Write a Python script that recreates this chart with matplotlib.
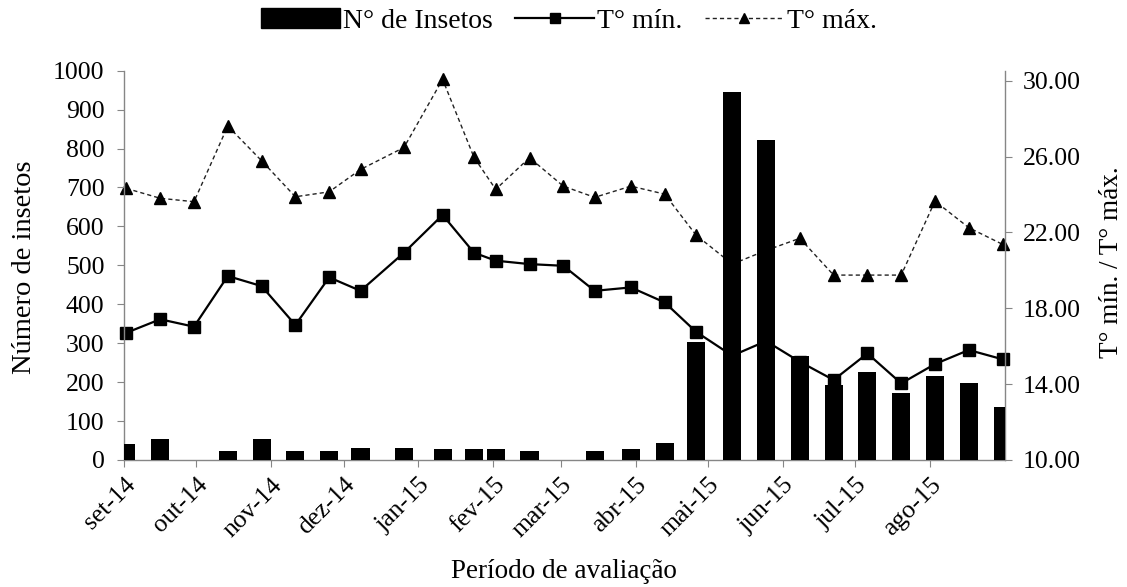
import numpy as np
import matplotlib
matplotlib.use("Agg")
import matplotlib.pyplot as plt
import matplotlib.dates as mdates
from matplotlib.patches import Patch
from matplotlib.lines import Line2D

plt.rcParams['font.family'] = ['Liberation Serif', 'DejaVu Serif']

# ---- data ----
sample_dates = ['2014-09-02', '2014-09-16', '2014-09-30', '2014-10-14', '2014-10-28',
                '2014-11-11', '2014-11-25', '2014-12-08', '2014-12-26', '2015-01-11',
                '2015-01-24', '2015-02-02', '2015-02-16', '2015-03-02', '2015-03-15',
                '2015-03-30', '2015-04-13', '2015-04-26', '2015-05-11', '2015-05-25',
                '2015-06-08', '2015-06-22', '2015-07-06', '2015-07-20', '2015-08-03',
                '2015-08-17', '2015-08-31']
insetos = [40, 53, 0, 24, 53, 24, 24, 32, 30, 27, 27, 27, 24, 0, 24, 27, 43,
           304, 946, 822, 267, 193, 227, 171, 216, 197, 135]
t_min = [16.71, 17.42, 17.03, 19.70, 19.17, 17.12, 19.63, 18.92, 20.93, 22.92,
         20.93, 20.51, 20.33, 20.24, 18.92, 19.10, 18.31, 16.76, 15.50, 16.27,
         15.18, 14.22, 15.62, 14.04, 15.06, 15.80, 15.31]
t_max = [24.32, 23.80, 23.62, 27.61, 25.78, 23.88, 24.14, 25.32, 26.48, 30.07,
         25.96, 24.27, 25.94, 24.44, 23.85, 24.44, 24.02, 21.86, 20.33, 21.05,
         21.69, 19.75, 19.75, 19.75, 23.65, 22.25, 21.37]
month_starts = ['2014-09-01', '2014-10-01', '2014-11-01', '2014-12-01', '2015-01-01',
                '2015-02-01', '2015-03-01', '2015-04-01', '2015-05-01', '2015-06-01',
                '2015-07-01', '2015-08-01']
month_labels = ['set-14', 'out-14', 'nov-14', 'dez-14', 'jan-15', 'fev-15',
                'mar-15', 'abr-15', 'mai-15', 'jun-15', 'jul-15', 'ago-15']
left_ticks = list(range(0, 1001, 100))
right_ticks = [10, 14, 18, 22, 26, 30]

x = mdates.date2num(np.array(sample_dates, dtype='datetime64[D]'))
xm = mdates.date2num(np.array(month_starts, dtype='datetime64[D]'))
x0 = mdates.date2num(np.datetime64('2014-09-01'))
x1 = mdates.date2num(np.datetime64('2015-09-01'))

W, H = 1127, 587
fig = plt.figure(figsize=(W / 100, H / 100), dpi=100)
ax = fig.add_axes([124 / W, 1 - 460 / H, (1005 - 124) / W, (460 - 70.7) / H])
ax2 = ax.twinx()
ax.set_zorder(ax2.get_zorder() + 1)
ax.patch.set_visible(False)

spine_c = '#868686'
TICK = 18.5

# bars (left axis)
ax.bar(x, insetos, width=7.5, color='black', zorder=3)
ax.set_ylim(0, 1000)
ax.set_yticks(left_ticks)
ax.set_xlim(x0, x1)
ax.set_xticks(xm)
ax.set_xticklabels(month_labels, rotation=45, ha='right', rotation_mode='anchor')

# lines (right axis)
ax2.plot(x, t_min, color='black', lw=1.6, marker='s', markersize=8, clip_on=False)
ax2.plot(x, t_max, color='#222222', lw=1.0, ls=(0, (3, 2.2)), marker='^',
         markersize=9, markerfacecolor='black', markeredgecolor='black', clip_on=False)
ax2.set_ylim(10, 10 + 20 * (460 - 70.7) / (460 - 80.7))
ax2.set_yticks(right_ticks)
ax2.set_yticklabels([f'{v:.2f}' for v in right_ticks])

for a in (ax, ax2):
    a.spines['top'].set_visible(False)
    for s in ('left', 'right', 'bottom'):
        a.spines[s].set_color(spine_c)
        a.spines[s].set_linewidth(1.0)
    a.tick_params(axis='both', which='both', direction='out', length=5,
                  color=spine_c, labelsize=TICK, labelcolor='black')
ax.spines['right'].set_visible(False)
ax2.spines['left'].set_visible(False)
ax2.spines['bottom'].set_visible(False)
ax.tick_params(axis='x', pad=5)
ax.tick_params(axis='y', pad=9)
ax2.tick_params(axis='y', pad=8)

fig.text(25 / W, 1 - 267 / H, 'Número de insetos', rotation=90, ha='center',
         va='center', fontsize=20.5)
fig.text(1112 / W, 1 - 262 / H, 'T° mín. / T° máx.', rotation=90, ha='center',
         va='center', fontsize=19.5)
fig.text(564 / W, 1 - 571 / H, 'Período de avaliação', ha='center', va='center',
         fontsize=19.5)

handles = [Patch(facecolor='black', edgecolor='black'),
           Line2D([], [], color='black', lw=1.6, marker='s', markersize=7),
           Line2D([], [], color='#222222', lw=1.0, ls=(0, (3, 2.2)), marker='^',
                  markersize=7, markerfacecolor='black', markeredgecolor='black')]
fig.legend(handles, ['N° de Insetos', 'T° mín.', 'T° máx.'], loc='center',
           bbox_to_anchor=(569 / W, 1 - 21 / H), ncol=3, frameon=False,
           fontsize=20, handlelength=2.85, handletextpad=0.1, columnspacing=0.8,
           borderpad=0)

fig.savefig('out.png', dpi=100)
